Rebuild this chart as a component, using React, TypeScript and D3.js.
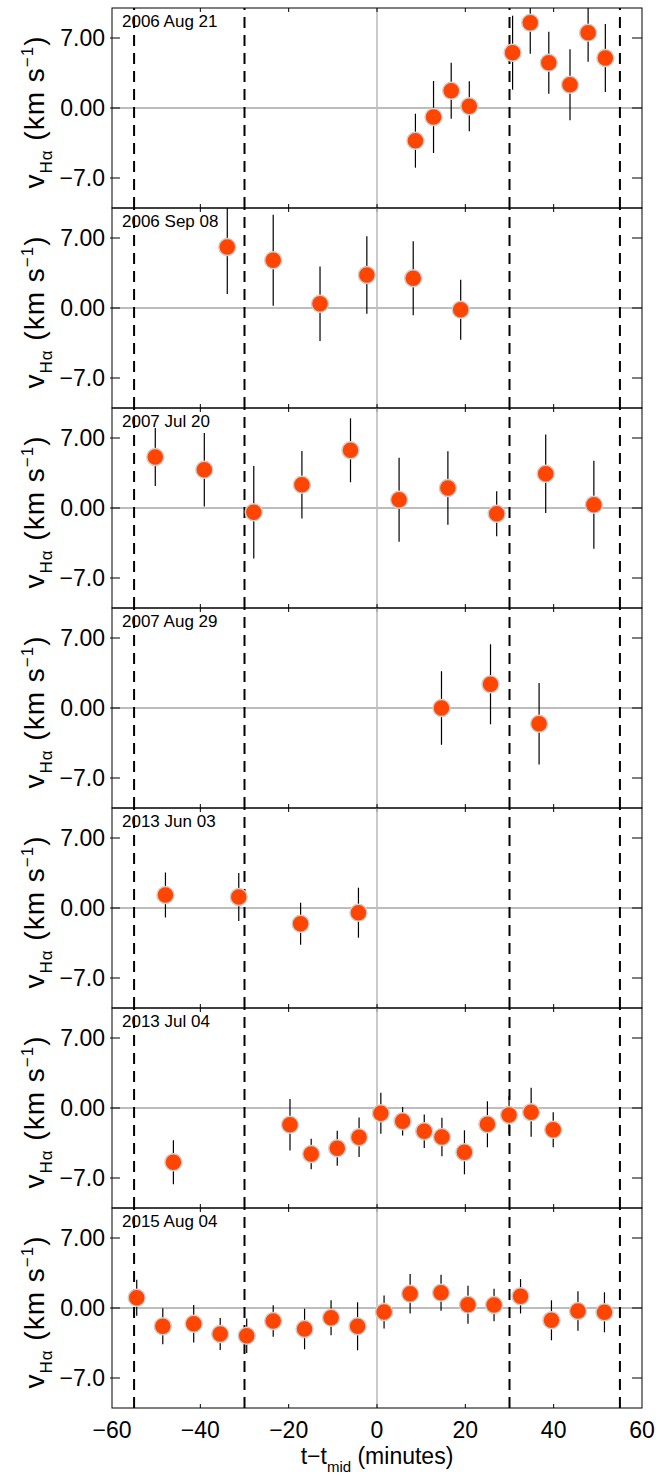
import React from "react";
import * as d3 from "d3";

// Observation nights, one panel each
const nights = [
  "2006 Aug 21",
  "2006 Sep 08",
  "2007 Jul 20",
  "2007 Aug 29",
  "2013 Jun 03",
  "2013 Jul 04",
  "2015 Aug 04",
];

// Time from mid-transit (minutes), Hα velocity and 1σ error (km/s)
const aug21T = [8.7, 12.8, 16.8, 20.9, 30.7, 34.7, 38.9, 43.7, 47.8, 51.7];
const aug21V = [-3.27, -0.9, 1.73, 0.17, 5.53, 8.53, 4.53, 2.33, 7.53, 5.0];
const aug21E = [2.7, 3.6, 2.8, 2.5, 3.7, 3.1, 3.1, 3.55, 2.9, 3.4];

const sep08T = [-33.9, -23.5, -12.9, -2.3, 8.2, 18.95];
const sep08V = [6.1, 4.77, 0.43, 3.3, 2.97, -0.17];
const sep08E = [4.7, 4.55, 3.73, 3.87, 3.7, 3.0];

const jul20T = [-50.2, -39.1, -27.9, -17.0, -6.0, 5.0, 16.05, 27.1, 38.2, 49.1];
const jul20V = [5.1, 3.83, -0.43, 2.33, 5.77, 0.83, 2.0, -0.57, 3.43, 0.33];
const jul20E = [2.9, 3.67, 4.63, 3.37, 3.2, 4.2, 3.68, 2.25, 3.92, 4.4];

const aug29T = [14.6, 25.7, 36.7];
const aug29V = [0.0, 2.37, -1.57];
const aug29E = [3.68, 4.0, 4.08];

const jun03T = [-47.9, -31.3, -17.3, -4.2];
const jun03V = [1.3, 1.1, -1.57, -0.47];
const jun03E = [2.25, 2.4, 2.1, 2.5];

const jul04T = [-46.1, -19.7, -14.9, -9.0, -4.06, 0.87, 5.8, 10.7, 14.7, 19.8, 25.0, 29.9, 34.9, 39.9];
const jul04V = [-5.43, -1.67, -4.6, -4.03, -2.93, -0.53, -1.33, -2.33, -2.9, -4.43, -1.63, -0.7, -0.43, -2.17];
const jul04E = [2.2, 2.58, 1.53, 1.75, 1.97, 2.05, 1.42, 1.68, 1.92, 2.2, 2.3, 1.9, 2.45, 1.75];

const aug04T = [-54.4, -48.5, -41.5, -35.5, -29.5, -23.5, -16.4, -10.4, -4.4, 1.6, 7.5, 14.5, 20.6, 26.5, 32.5, 39.5, 45.5, 51.5];
const aug04V = [1.03, -1.83, -1.57, -2.6, -2.77, -1.3, -2.1, -0.97, -1.83, -0.4, 1.43, 1.53, 0.33, 0.3, 1.17, -1.23, -0.3, -0.43];
const aug04E = [1.8, 1.8, 1.87, 1.6, 1.72, 1.58, 2.03, 1.75, 2.4, 1.65, 1.97, 1.8, 1.9, 1.63, 1.72, 2.0, 1.97, 2.0];

const seriesT = [aug21T, sep08T, jul20T, aug29T, jun03T, jul04T, aug04T];
const seriesV = [aug21V, sep08V, jul20V, aug29V, jun03V, jul04V, aug04V];
const seriesE = [aug21E, sep08E, jul20E, aug29E, jun03E, jul04E, aug04E];

// Contact times (dashed) and axis ticks
const contacts = [-55, -30, 30, 55];
const xTicks = [-60, -40, -20, 0, 20, 40, 60];
const yTicks = [7, 0, -7];
const yTickLabels = ["7.00", "0.00", "\u22127.0"];

const W = 670;
const H = 1476;
const left = 112;
const right = 642;
const top0 = 8;
const panelH = 200;
const font = "'Liberation Sans', Arial, Helvetica, sans-serif";

const x = d3.scaleLinear().domain([-60, 60]).range([left, right]);

function Panel({ i }: { i: number }) {
  const top = top0 + i * panelH;
  const bottom = top + panelH;
  const y = d3.scaleLinear().domain([-10, 10]).range([bottom, top]);
  const T = seriesT[i];
  const V = seriesV[i];
  const E = seriesE[i];
  const clipId = `clip-${i}`;
  const cy = (top + bottom) / 2;
  return (
    <g>
      <defs>
        <clipPath id={clipId}>
          <rect x={left} y={top} width={right - left} height={panelH} />
        </clipPath>
      </defs>
      {/* zero reference lines */}
      <line x1={left} x2={right} y1={y(0)} y2={y(0)} stroke="#bdbdbd" strokeWidth={2} />
      <line x1={x(0)} x2={x(0)} y1={top} y2={bottom} stroke="#bdbdbd" strokeWidth={1.6} />
      {/* night label */}
      <text x={122} y={top + 19} fontFamily={font} fontSize={17} fill="#000">
        {nights[i]}
      </text>
      {/* contact markers */}
      {contacts.map((c) => (
        <line
          key={c}
          x1={x(c)}
          x2={x(c)}
          y1={bottom}
          y2={top}
          stroke="#000"
          strokeWidth={2}
          strokeDasharray="11 7"
        />
      ))}
      {/* error bars and points */}
      <g clipPath={`url(#${clipId})`}>
        {T.map((t, k) => (
          <line
            key={"e" + k}
            x1={x(t)}
            x2={x(t)}
            y1={y(V[k] - E[k])}
            y2={y(V[k] + E[k])}
            stroke="#000"
            strokeWidth={1.2}
          />
        ))}
        {T.map((t, k) => (
          <circle
            key={"p" + k}
            cx={x(t)}
            cy={y(V[k])}
            r={8.5}
            fill="#ff4500"
            stroke="#cfcfcf"
            strokeWidth={1.5}
          />
        ))}
      </g>
      {/* frame */}
      <rect x={left} y={top} width={right - left} height={panelH} fill="none" stroke="#000" strokeWidth={1} />
      {/* x ticks crossing panel edges */}
      {xTicks.slice(1, -1).map((t) => (
        <g key={"xt" + t}>
          <line x1={x(t)} x2={x(t)} y1={bottom - 4} y2={bottom + (i === 6 ? 0 : 4)} stroke="#000" strokeWidth={1} />
          {i === 0 && <line x1={x(t)} x2={x(t)} y1={top} y2={top + 4} stroke="#000" strokeWidth={1} />}
        </g>
      ))}
      {/* y ticks and labels */}
      {yTicks.map((v, k) => (
        <g key={"yt" + v}>
          <line x1={left - 2} x2={left + 8} y1={y(v)} y2={y(v)} stroke="#000" strokeWidth={1} />
          <line x1={right - 10} x2={right} y1={y(v)} y2={y(v)} stroke="#000" strokeWidth={1} />
          <text
            x={105}
            y={y(v)}
            dy="0.36em"
            textAnchor="end"
            fontFamily={font}
            fontSize={23}
            fill="#000"
          >
            {yTickLabels[k]}
          </text>
        </g>
      ))}
      {/* y axis title */}
      <text
        transform={`translate(44,${cy + 4}) rotate(-90)`}
        textAnchor="middle"
        fontFamily={font}
        fontSize={28}
        fill="#000"
        letterSpacing={1}
      >
        v
        <tspan fontSize={17} dy={8}>
          {"H\u03b1"}
        </tspan>
        <tspan dy={-8}>{"  (km s"}</tspan>
        <tspan fontSize={17} dy={-11}>
          {"\u22121"}
        </tspan>
        <tspan dy={11}>)</tspan>
      </text>
    </g>
  );
}

export default function App() {
  const axisY = top0 + nights.length * panelH;
  return (
    <svg
      width={W}
      height={H}
      style={{ position: "absolute", left: 0, top: 0, background: "#fff" }}
    >
      <rect x={0} y={0} width={W} height={H} fill="#fff" />
      {nights.map((_, i) => (
        <Panel key={i} i={i} />
      ))}
      {xTicks.map((t) => (
        <text
          key={t}
          x={x(t)}
          y={axisY + 30}
          textAnchor="middle"
          fontFamily={font}
          fontSize={23}
          fill="#000"
        >
          {t < 0 ? "\u2212" + Math.abs(t) : String(t)}
        </text>
      ))}
      <text x={x(0)} y={axisY + 56} textAnchor="middle" fontFamily={font} fontSize={23} fill="#000">
        {"t\u2212t"}
        <tspan fontSize={15} dy={8}>
          mid
        </tspan>
        <tspan dy={-8}>{" (minutes)"}</tspan>
      </text>
    </svg>
  );
}
